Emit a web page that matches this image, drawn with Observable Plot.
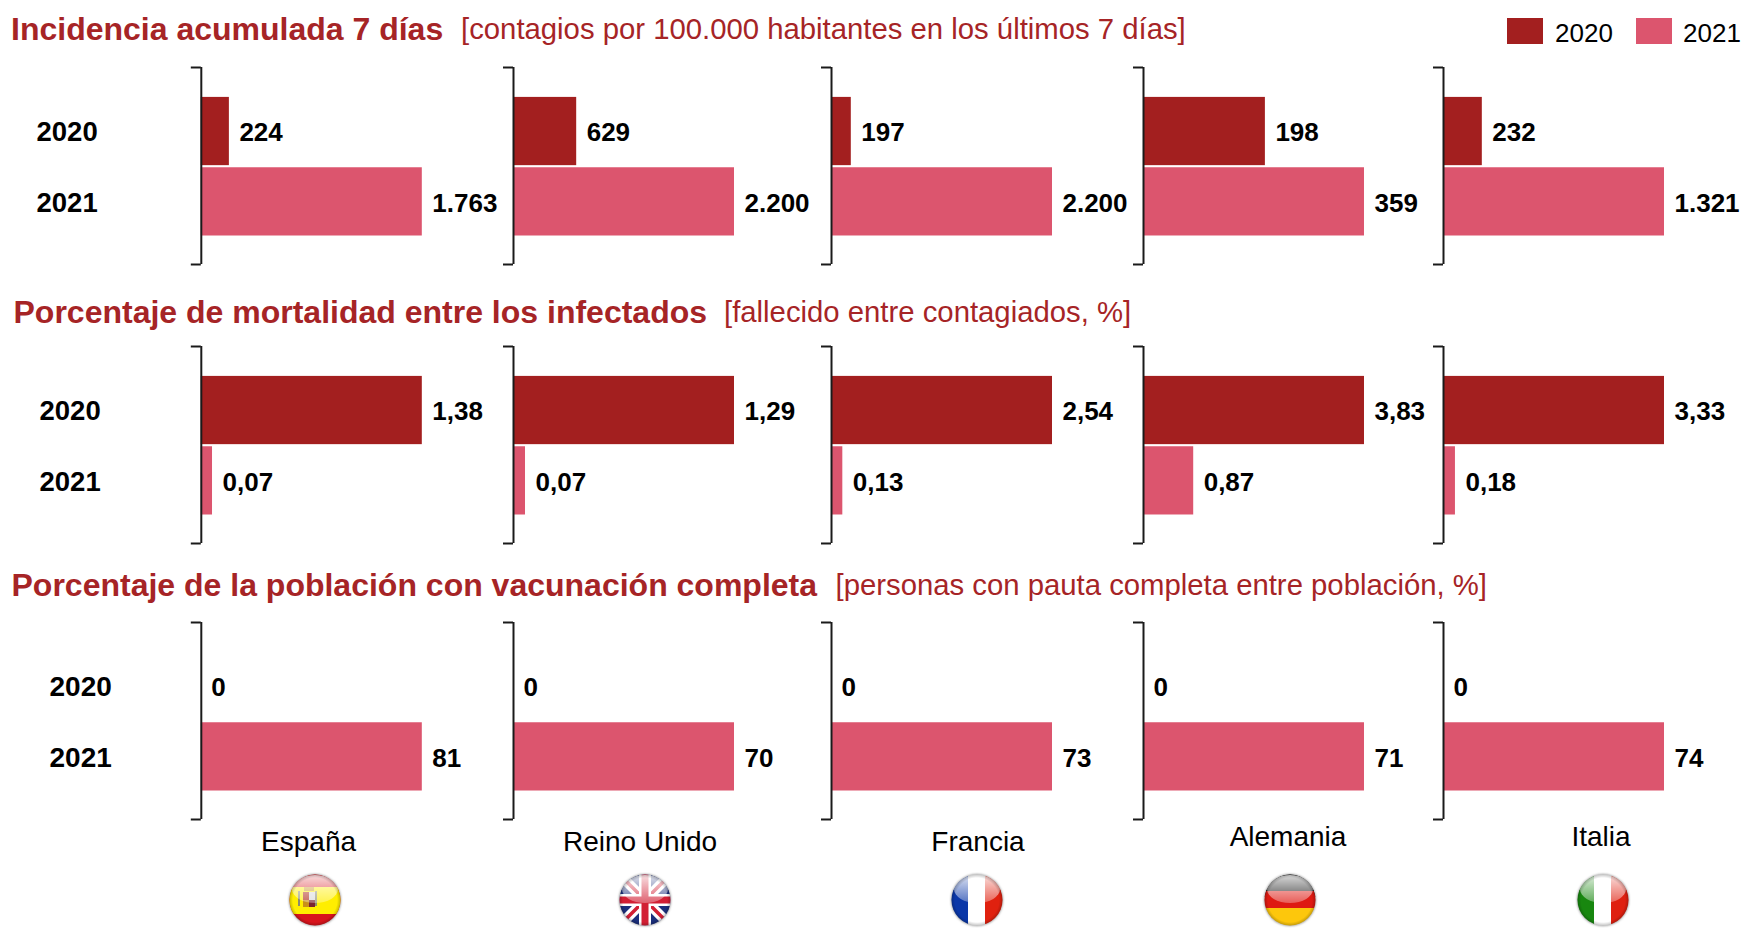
<!DOCTYPE html>
<html lang="es">
<head>
<meta charset="utf-8">
<script src="https://cdn.jsdelivr.net/npm/d3@7"></script>
<script src="https://cdn.jsdelivr.net/npm/@observablehq/plot@0.6"></script>
<style>
html,body{margin:0;padding:0;background:#fff;overflow:hidden}
#root{position:relative;width:1758px;height:937px;font-family:"Liberation Sans",Arial,sans-serif;color:#000}
#root>*{position:absolute}
.t{white-space:nowrap;transform:translateY(-50%);line-height:1}
.title{font-size:32px;font-weight:700;color:#a62426}
.sub{font-size:29.3px;color:#a62426}
.lab{font-size:26px}
.country{font-size:28px}
svg{overflow:visible}
</style>
</head>
<body>
<div id="root"></div>
<script>
const countries = ["España", "Reino Unido", "Francia", "Alemania", "Italia"];
const years = [2020, 2021];
const incidencia2020 = [224, 629, 197, 198, 232];
const incidencia2021 = [1763, 2200, 2200, 359, 1321];
const mortalidad2020 = [1.38, 1.29, 2.54, 3.83, 3.33];
const mortalidad2021 = [0.07, 0.07, 0.13, 0.87, 0.18];
const vacunacion2020 = [0, 0, 0, 0, 0];
const vacunacion2021 = [81, 70, 73, 71, 74];
const titles = ["Incidencia acumulada 7 días", "Porcentaje de mortalidad entre los infectados", "Porcentaje de la población con vacunación completa"];
const subtitles = ["[contagios por 100.000 habitantes en los últimos 7 días]", "[fallecido entre contagiados, %]", "[personas con pauta completa entre población, %]"];

const colors = ["#a31f1f", "#dc556e"];
const es = d3.formatLocale({decimal: ",", thousands: ".", grouping: [3], currency: ["", "€"]});
const rows = [
  {a: incidencia2020, b: incidencia2021, fmt: es.format(",d"), axisTop: 67, yearX: 36, yearSize: 27.5, titleX: 11, subX: 461, titleY: 29},
  {a: mortalidad2020, b: mortalidad2021, fmt: es.format(".2f"), axisTop: 346, yearX: 39, yearSize: 27.5, titleX: 13.5, subX: 724, titleY: 312},
  {a: vacunacion2020, b: vacunacion2021, fmt: es.format("d"), axisTop: 622, yearX: 49, yearSize: 28, titleX: 11.5, subX: 835.5, titleY: 585}
];
const axisX = [200.8, 512.5, 831, 1142.6, 1443];
const panelRight = [512.5 - 14, 831 - 14, 1142.6 - 14, 1443 - 14, 1750];
const barLen = 221, axisLen = 197, margin = 3, tickLen = 10;
const yTop = 2019.09, yBottom = 2021.89;

const root = document.getElementById("root");
function add(el, x, y) { el.style.left = x + "px"; el.style.top = y + "px"; root.appendChild(el); return el; }
function label(text, cls, x, y) {
  const s = document.createElement("div");
  s.className = "t " + cls; s.textContent = text;
  return add(s, x, y);
}

rows.forEach((r, ri) => {
  label(titles[ri], "title", r.titleX, r.titleY);
  label(subtitles[ri], "sub", r.subX, r.titleY);
  axisX.forEach((ax, ci) => {
    const data = [
      {year: years[0], value: r.a[ci]},
      {year: years[1], value: r.b[ci]}
    ];
    const max = d3.max(data, d => d.value);
    const ml = ci === 0 ? ax - 20 : 14;
    const w = ml + (panelRight[ci] - ax);
    const pxToData = max / barLen;
    const plot = Plot.plot({
      width: w,
      height: axisLen + 2 * margin,
      marginLeft: ml, marginRight: 0, marginTop: margin, marginBottom: margin,
      style: {background: "transparent", fontFamily: '"Liberation Sans", Arial, sans-serif', overflow: "visible"},
      x: {domain: [0, max], range: [ml, ml + barLen], axis: null},
      y: {domain: [yTop, yBottom], range: [margin, margin + axisLen], axis: null},
      color: {type: "ordinal", domain: years, range: colors},
      marks: [
        Plot.rectX(data.filter(d => d.value > 0), {
          x1: () => 0, x2: "value",
          y1: d => d.year - 0.485, y2: d => d.year + 0.485,
          fill: "year"
        }),
        Plot.ruleX([0], {y1: yTop, y2: yBottom, stroke: "#1a1a1a", strokeWidth: 2}),
        Plot.ruleY([yTop, yBottom], {x1: -tickLen * pxToData, x2: 0, stroke: "#1a1a1a", strokeWidth: 2}),
        Plot.text(data, {
          x: "value", y: "year", text: d => r.fmt(d.value),
          textAnchor: "start", dx: 10, dy: 1.5, fontSize: 26, fontWeight: 700, fill: "#000"
        }),
        ci === 0 ? Plot.text(years, {
          x: () => 0, y: d => d, text: d => String(d),
          textAnchor: "start", dx: r.yearX - ax, dy: 1, fontSize: r.yearSize, fontWeight: 700, fill: "#000"
        }) : null
      ]
    });
    plot.style.position = "absolute";
    add(plot, ax - ml, r.axisTop - margin);
  });
});

/* leyenda */
const legend = [[1507, 1555], [1636, 1683]];
years.forEach((yr, i) => {
  const sw = document.createElement("div");
  sw.style.cssText = `width:36px;height:26px;background:${colors[i]}`;
  add(sw, legend[i][0], 18);
  label(String(yr), "lab", legend[i][1], 33);
});

/* países y banderas */
const countryLabelPos = [[308.6, 842], [640, 842], [978, 842], [1288, 837], [1601, 837]];
const flagCenters = [315, 645, 976.5, 1289.5, 1603];
countries.forEach((c, i) => {
  const l = label(c, "country", countryLabelPos[i][0], countryLabelPos[i][1]);
  l.style.transform = "translate(-50%,-50%)";
});

function bands(kind) {
  const R = (x, y, w, h, f) => `<rect x="${x}" y="${y}" width="${w}" height="${h}" fill="${f}"/>`;
  if (kind === 0) {
    return R(-30,-30,60,60,"#d8141c") + R(-30,-13,60,27,"#ffee00") +
      R(-17,-9,2,15,"#8a8a70") + R(0,-9,2,15,"#8a8a70") +
      R(-12,-8,6,8,"#b02a1a") + R(-6,-8,6,8,"#d9d9d9") + R(-12,0,6,7,"#c9901a") + R(-6,0,6,7,"#7a2230") + R(-11,-13,10,4,"#c9901a");
  }
  if (kind === 1) {
    let s = R(-30,-30,60,60,"#1b2f7c");
    s += `<path d="M-30-30 30 30M-30 30 30-30" stroke="#fff" stroke-width="10"/>`;
    s += `<path d="M-30-30 30 30M-30 30 30-30" stroke="#d21f34" stroke-width="3.5"/>`;
    s += R(-30,-6,60,12,"#fff") + R(-6,-30,12,60,"#fff") + R(-30,-3.5,60,7,"#d21f34") + R(-3.5,-30,7,60,"#d21f34");
    return s;
  }
  if (kind === 2) return R(-30,-30,22,60,"#0a37a8") + R(-9,-30,18,60,"#fff") + R(8,-30,22,60,"#e0210f");
  if (kind === 3) return R(-30,-30,60,27,"#000") + R(-30,-9,60,18,"#de1a12") + R(-30,8,60,22,"#fdc70c");
  return R(-30,-30,22,60,"#18870f") + R(-9,-30,18,60,"#fff") + R(8,-30,22,60,"#df2010");
}
flagCenters.forEach((cx, i) => {
  const d = document.createElement("div");
  d.innerHTML = `<svg width="60" height="60" viewBox="-30 -30 60 60" role="img" aria-label="${countries[i]}">
    <defs>
      <clipPath id="c${i}"><circle r="25.5"/></clipPath>
      <linearGradient id="g${i}" x1="0" y1="0" x2="0" y2="1"><stop offset="0" stop-color="#fff" stop-opacity=".85"/><stop offset="1" stop-color="#fff" stop-opacity=".3"/></linearGradient>
      <radialGradient id="v${i}"><stop offset=".85" stop-color="#000" stop-opacity="0"/><stop offset="1" stop-color="#000" stop-opacity=".25"/></radialGradient>
      <filter id="b${i}" x="-20%" y="-20%" width="140%" height="140%"><feGaussianBlur stdDeviation="1"/></filter>
    </defs>
    <circle r="26" fill="#999" filter="url(#b${i})"/>
    <g clip-path="url(#c${i})">${bands(i)}<ellipse cx="0" cy="-11" rx="23" ry="14" fill="url(#g${i})"/><circle r="26" fill="url(#v${i})"/></g>
  </svg>`;
  add(d, cx - 30, 900 - 30);
});
</script>
</body>
</html>
